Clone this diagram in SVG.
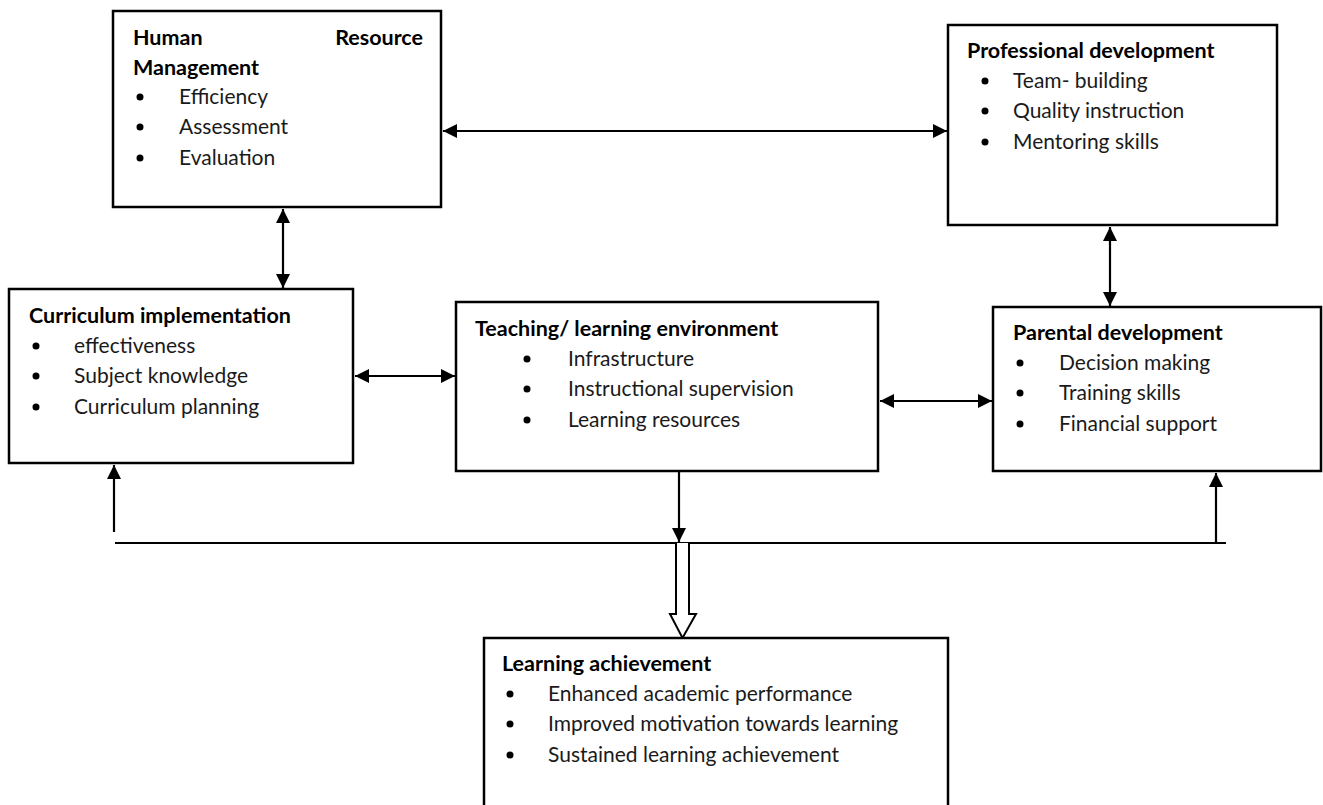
<svg xmlns="http://www.w3.org/2000/svg" width="1323" height="805" viewBox="0 0 1323 805">
<defs>
<style>
.box{fill:#fff;stroke:#000;stroke-width:2.5}
text{font-family:Lato,"Open Sans","Liberation Sans",sans-serif;font-size:21px;fill:#1a1a1a}
.t{font-weight:bold;fill:#000;font-size:21.5px}
.b{fill:#000}
.ln{stroke:#000;stroke-width:2.2;fill:none}
</style>
<marker id="ah" viewBox="0 0 10 10" refX="10" refY="5" markerWidth="6.5" markerHeight="6.5" orient="auto-start-reverse" markerUnits="strokeWidth">
<path d="M0,0 L10,5 L0,10 z" fill="#000"/>
</marker>
</defs>

<g id="connectors">
<line class="ln" x1="443" y1="131" x2="947" y2="131" marker-start="url(#ah)" marker-end="url(#ah)"/>
<line class="ln" x1="283" y1="209" x2="283" y2="288" marker-start="url(#ah)" marker-end="url(#ah)"/>
<line class="ln" x1="1110" y1="227" x2="1110" y2="306" marker-start="url(#ah)" marker-end="url(#ah)"/>
<line class="ln" x1="355" y1="376" x2="455" y2="376" marker-start="url(#ah)" marker-end="url(#ah)"/>
<line class="ln" x1="880" y1="401" x2="992" y2="401" marker-start="url(#ah)" marker-end="url(#ah)"/>
<line class="ln" x1="679" y1="472" x2="679" y2="542" marker-end="url(#ah)"/>
<line class="ln" x1="115" y1="543" x2="1226" y2="543"/>
<line class="ln" x1="114" y1="532" x2="114" y2="465" marker-end="url(#ah)"/>
<line class="ln" x1="1216" y1="543" x2="1216" y2="473" marker-end="url(#ah)"/>
<path d="M676,543 L676,614 L670,614 L682.5,638 L696,614 L689,614 L689,543" fill="#fff" stroke="#000" stroke-width="2"/>
</g>

<g id="hrm">
<rect class="box" x="113" y="11" width="328" height="196"/>
<text class="t" x="133" y="45">Human</text>
<text class="t" x="423" y="45" text-anchor="end">Resource</text>
<text class="t" x="133" y="75">Management</text>
<circle class="b" cx="140" cy="97" r="3.5"/><text x="179" y="104">Efficiency</text>
<circle class="b" cx="140" cy="127" r="3.5"/><text x="179" y="134">Assessment</text>
<circle class="b" cx="140" cy="158" r="3.5"/><text x="179" y="165">Evaluation</text>
</g>

<g id="professional">
<rect class="box" x="948" y="25" width="329" height="200"/>
<text class="t" x="967" y="58">Professional development</text>
<circle class="b" cx="985" cy="81" r="3.5"/><text x="1013" y="88">Team- building</text>
<circle class="b" cx="985" cy="111" r="3.5"/><text x="1013" y="118">Quality instruction</text>
<circle class="b" cx="985" cy="142" r="3.5"/><text x="1013" y="149">Mentoring skills</text>
</g>

<g id="curriculum">
<rect class="box" x="9" y="289" width="344" height="174"/>
<text class="t" x="29" y="323">Curriculum implementation</text>
<circle class="b" cx="36" cy="346" r="3.5"/><text x="74" y="353">effectiveness</text>
<circle class="b" cx="36" cy="376" r="3.5"/><text x="74" y="383">Subject knowledge</text>
<circle class="b" cx="36" cy="407" r="3.5"/><text x="74" y="414">Curriculum planning</text>
</g>

<g id="teaching">
<rect class="box" x="456" y="302" width="422" height="169"/>
<text class="t" x="475" y="336">Teaching/ learning environment</text>
<circle class="b" cx="527" cy="359" r="3.5"/><text x="568" y="366">Infrastructure</text>
<circle class="b" cx="527" cy="389" r="3.5"/><text x="568" y="396">Instructional supervision</text>
<circle class="b" cx="527" cy="420" r="3.5"/><text x="568" y="427">Learning resources</text>
</g>

<g id="parental">
<rect class="box" x="993" y="307" width="328" height="164"/>
<text class="t" x="1013" y="340">Parental development</text>
<circle class="b" cx="1020" cy="363" r="3.5"/><text x="1059" y="370">Decision making</text>
<circle class="b" cx="1020" cy="393" r="3.5"/><text x="1059" y="400">Training skills</text>
<circle class="b" cx="1020" cy="424" r="3.5"/><text x="1059" y="431">Financial support</text>
</g>

<g id="learning">
<rect class="box" x="484" y="638" width="464" height="180"/>
<text class="t" x="502" y="671">Learning achievement</text>
<circle class="b" cx="510" cy="694" r="3.5"/><text x="548" y="701">Enhanced academic performance</text>
<circle class="b" cx="510" cy="724" r="3.5"/><text x="548" y="731">Improved motivation towards learning</text>
<circle class="b" cx="510" cy="755" r="3.5"/><text x="548" y="762">Sustained learning achievement</text>
</g>
</svg>
